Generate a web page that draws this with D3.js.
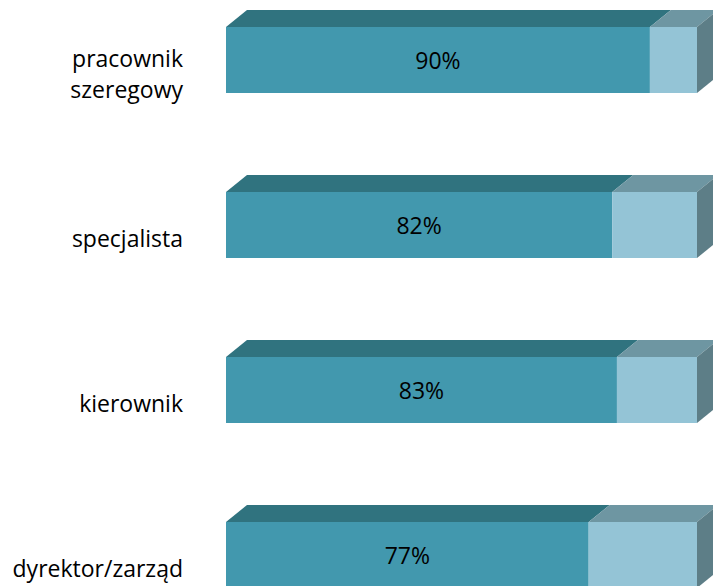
<!DOCTYPE html>
<html>
<head>
<meta charset="utf-8">
<script src="https://cdnjs.cloudflare.com/ajax/libs/d3/7.8.5/d3.min.js"></script>
<style>
    html, body { margin: 0; padding: 0; background: #fff; overflow: hidden; }
    svg { display: block; }
</style>
</head>
<body>
<svg id="chart"></svg>
<script>

// chart values
const categories = ["pracownik\nszeregowy", "specjalista", "kierownik", "dyrektor/zarząd"];
const mainShare = [90, 82, 83, 77];   // labelled dark segment, %
const restShare = [10, 18, 17, 23];   // light remainder, %

const width = 713, height = 586;

const svg = d3.select("#chart")
    .attr("width", width)
    .attr("height", height);

// front face geometry
const x = d3.scaleLinear()
    .domain([0, 100])
    .range([226, 697]);

const y = d3.scaleBand()
    .domain(categories)
    .range([27, 588])
    .paddingInner(0.6)
    .paddingOuter(0);

// depth of the 3d effect
const depth = {dx: 21, dy: 17};

const colors = {
    main: {front: "#4298AE", top: "#30737F"},
    rest: {front: "#94C4D6", top: "#6E96A2"},
    side: "#5D7E87"
};

let rows = categories.map((c, i) => ({
    cat: c,
    segs: [
        {key: "main", from: 0, to: mainShare[i], value: mainShare[i]},
        {key: "rest", from: mainShare[i], to: mainShare[i] + restShare[i], value: restShare[i]}
    ]
}));

let bar = svg.selectAll(".bar")
    .data(rows)
    .enter()
    .append("g")
    .attr("class", "bar")
    .attr("transform", d => `translate(0, ${y(d.cat)})`);

const h = y.bandwidth();

// top faces first, then fronts
bar.selectAll(".top")
    .data(d => d.segs)
    .enter()
    .append("path")
    .attr("class", "top")
    .attr("fill", d => colors[d.key].top)
    .attr("d", d => {
        let x0 = x(d.from), x1 = x(d.to);
        return `M${x0},0 L${x0 + depth.dx},${-depth.dy} L${x1 + depth.dx},${-depth.dy} L${x1},0 Z`;
    });

bar.selectAll(".front")
    .data(d => d.segs)
    .enter()
    .append("rect")
    .attr("class", "front")
    .attr("x", d => x(d.from))
    .attr("y", 0)
    .attr("width", d => x(d.to) - x(d.from))
    .attr("height", h)
    .attr("fill", d => colors[d.key].front);

// right side of the whole bar
bar.append("path")
    .attr("fill", colors.side)
    .attr("d", d => {
        let x1 = x(d.segs[1].to);
        return `M${x1},0 L${x1 + depth.dx},${-depth.dy} L${x1 + depth.dx},${h - depth.dy} L${x1},${h} Z`;
    });

// value labels on the dark segment
bar.append("text")
    .attr("x", d => (x(d.segs[0].from) + x(d.segs[0].to)) / 2)
    .attr("y", h / 2 + 9)
    .attr("text-anchor", "middle")
    .style("font-family", "'Open Sans', sans-serif")
    .style("font-size", "23px")
    .style("fill", "#000")
    .text(d => d.segs[0].value + "%");

// category labels
const lineH = 31;
bar.append("text")
    .attr("text-anchor", "end")
    .style("font-family", "'Open Sans', sans-serif")
    .style("font-size", "23px")
    .style("fill", "#000")
    .each(function (d) {
        let lines = d.cat.split("\n");
        let t = d3.select(this);
        lines.forEach((ln, i) => {
            t.append("tspan")
                .attr("x", 183)
                .attr("y", h / 2 + 22 + (i - (lines.length - 1) / 2) * lineH)
                .text(ln);
        });
    });

</script>
</body>
</html>
